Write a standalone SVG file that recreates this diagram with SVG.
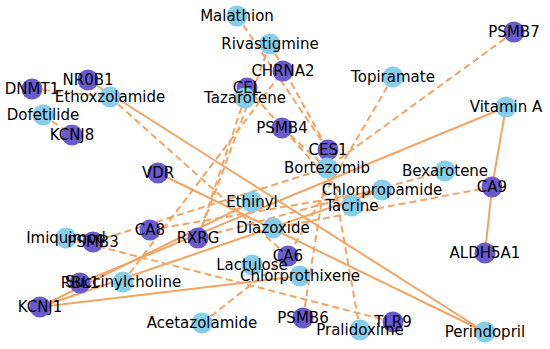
<svg xmlns="http://www.w3.org/2000/svg" width="550" height="349" viewBox="0 0 550 349">
<style>
.e{stroke:#F4A460;stroke-width:2;fill:none}
.d{stroke-dasharray:7,4}
.t{fill:#6A5ACD}
.g{fill:#87CEEB}
text{font-family:"DejaVu Sans",sans-serif;font-size:15px;fill:#000;text-anchor:middle;dominant-baseline:central}
</style>
<rect width="550" height="349" fill="#fff"/>
<g id="edges">
<line class="e" x1="88" y1="80" x2="485" y2="332"/>
<line class="e" x1="158" y1="173" x2="485" y2="332"/>
<line class="e" x1="506" y1="107" x2="492" y2="187"/>
<line class="e" x1="492" y1="187" x2="485" y2="253"/>
<line class="e" x1="506" y1="107" x2="80" y2="283"/>
<line class="e" x1="40" y1="307" x2="300" y2="276"/>
<line class="e" x1="40" y1="307" x2="382" y2="190"/>
<line class="e" x1="40" y1="307" x2="252" y2="202"/>
<line class="e d" x1="32" y1="89" x2="110" y2="97"/>
<line class="e d" x1="110" y1="97" x2="288" y2="256"/>
<line class="e d" x1="43" y1="115" x2="72" y2="135"/>
<line class="e d" x1="237" y1="16" x2="328" y2="150"/>
<line class="e d" x1="270" y1="44" x2="328" y2="150"/>
<line class="e d" x1="514" y1="32" x2="327" y2="168"/>
<line class="e d" x1="303" y1="318" x2="327" y2="168"/>
<line class="e d" x1="93" y1="242" x2="327" y2="168"/>
<line class="e d" x1="282" y1="128" x2="327" y2="168"/>
<line class="e d" x1="247" y1="88" x2="352" y2="206"/>
<line class="e d" x1="66" y1="238" x2="393" y2="322"/>
<line class="e d" x1="123" y1="282" x2="283" y2="71"/>
<line class="e d" x1="360" y1="330" x2="328" y2="150"/>
<line class="e d" x1="393" y1="77" x2="288" y2="256"/>
<line class="e d" x1="445" y1="171" x2="198" y2="238"/>
<line class="e d" x1="492" y1="187" x2="273" y2="228"/>
<line class="e d" x1="150" y1="230" x2="382" y2="190"/>
<line class="e d" x1="245" y1="97" x2="198" y2="238"/>
<line class="e d" x1="270" y1="44" x2="198" y2="238"/>
<line class="e d" x1="202" y1="323" x2="288" y2="256"/>
</g>
<g id="n-Malathion"><circle class="g" cx="237" cy="16" r="10.5"/></g>
<g id="n-Rivastigmine"><circle class="g" cx="270" cy="44" r="10.5"/></g>
<g id="n-PSMB7"><circle class="t" cx="514" cy="32" r="10.5"/></g>
<g id="n-CHRNA2"><circle class="t" cx="283" cy="71" r="10.5"/></g>
<g id="n-Topiramate"><circle class="g" cx="393" cy="77" r="10.5"/></g>
<g id="n-CEL"><circle class="t" cx="247" cy="88" r="10.5"/></g>
<g id="n-Tazarotene"><circle class="g" cx="245" cy="98" r="10.5"/></g>
<g id="n-NR0B1"><circle class="t" cx="88" cy="80" r="10.5"/></g>
<g id="n-DNMT1"><circle class="t" cx="32" cy="89" r="10.5"/></g>
<g id="n-Ethoxzolamide"><circle class="g" cx="110" cy="97" r="10.5"/></g>
<g id="n-Dofetilide"><circle class="g" cx="43" cy="115" r="10.5"/></g>
<g id="n-KCNJ8"><circle class="t" cx="72" cy="135" r="10.5"/></g>
<g id="n-VitaminA"><circle class="g" cx="506" cy="107" r="10.5"/></g>
<g id="n-PSMB4"><circle class="t" cx="282" cy="128" r="10.5"/></g>
<g id="n-CES1"><circle class="t" cx="328" cy="150" r="10.5"/></g>
<g id="n-Bortezomib"><circle class="g" cx="327" cy="168" r="10.5"/></g>
<g id="n-Bexarotene"><circle class="g" cx="445" cy="171" r="10.5"/></g>
<g id="n-CA9"><circle class="t" cx="492" cy="187" r="10.5"/></g>
<g id="n-Chlorpropamide"><circle class="g" cx="382" cy="190" r="10.5"/></g>
<g id="n-Tacrine"><circle class="g" cx="352" cy="206" r="10.5"/></g>
<g id="n-VDR"><circle class="t" cx="158" cy="173" r="10.5"/></g>
<g id="n-Ethinyl"><circle class="g" cx="252" cy="202" r="10.5"/></g>
<g id="n-Diazoxide"><circle class="g" cx="273" cy="228" r="10.5"/></g>
<g id="n-CA8"><circle class="t" cx="150" cy="230" r="10.5"/></g>
<g id="n-RXRG"><circle class="t" cx="198" cy="238" r="10.5"/></g>
<g id="n-Imiquimod"><circle class="g" cx="66" cy="238" r="10.5"/></g>
<g id="n-PSMB3"><circle class="t" cx="93" cy="242" r="10.5"/></g>
<g id="n-CA6"><circle class="t" cx="288" cy="256" r="10.5"/></g>
<g id="n-Lactulose"><circle class="g" cx="252" cy="265" r="10.5"/></g>
<g id="n-Chlorprothixene"><circle class="g" cx="300" cy="276" r="10.5"/></g>
<g id="n-RBL1"><circle class="t" cx="80" cy="283" r="10.5"/></g>
<g id="n-Succinylcholine"><circle class="g" cx="123" cy="282" r="10.5"/></g>
<g id="n-KCNJ1"><circle class="t" cx="40" cy="307" r="10.5"/></g>
<g id="n-Acetazolamide"><circle class="g" cx="202" cy="323" r="10.5"/></g>
<g id="n-PSMB6"><circle class="t" cx="303" cy="318" r="10.5"/></g>
<g id="n-Pralidoxime"><circle class="g" cx="360" cy="330" r="10.5"/></g>
<g id="n-TLR9"><circle class="t" cx="393" cy="322" r="10.5"/></g>
<g id="n-Perindopril"><circle class="g" cx="485" cy="332" r="10.5"/></g>
<g id="n-ALDH5A1"><circle class="t" cx="485" cy="253" r="10.5"/></g>
<g id="labels">
<text x="237" y="16">Malathion</text>
<text x="270" y="44">Rivastigmine</text>
<text x="514" y="32">PSMB7</text>
<text x="283" y="71">CHRNA2</text>
<text x="393" y="77">Topiramate</text>
<text x="247" y="88">CEL</text>
<text x="245" y="98">Tazarotene</text>
<text x="88" y="80">NR0B1</text>
<text x="32" y="89">DNMT1</text>
<text x="110" y="97">Ethoxzolamide</text>
<text x="43" y="115">Dofetilide</text>
<text x="72" y="135">KCNJ8</text>
<text x="506" y="107">Vitamin A</text>
<text x="282" y="128">PSMB4</text>
<text x="328" y="150">CES1</text>
<text x="327" y="168">Bortezomib</text>
<text x="445" y="171">Bexarotene</text>
<text x="492" y="187">CA9</text>
<text x="382" y="190">Chlorpropamide</text>
<text x="352" y="206">Tacrine</text>
<text x="158" y="173">VDR</text>
<text x="252" y="202">Ethinyl</text>
<text x="273" y="228">Diazoxide</text>
<text x="150" y="230">CA8</text>
<text x="198" y="238">RXRG</text>
<text x="66" y="238">Imiquimod</text>
<text x="93" y="242">PSMB3</text>
<text x="288" y="256">CA6</text>
<text x="252" y="265">Lactulose</text>
<text x="300" y="276">Chlorprothixene</text>
<text x="80" y="283">RBL1</text>
<text x="123" y="282">Succinylcholine</text>
<text x="40" y="307">KCNJ1</text>
<text x="202" y="323">Acetazolamide</text>
<text x="303" y="318">PSMB6</text>
<text x="360" y="330">Pralidoxime</text>
<text x="393" y="322">TLR9</text>
<text x="485" y="332">Perindopril</text>
<text x="485" y="253">ALDH5A1</text>
</g>
</svg>
